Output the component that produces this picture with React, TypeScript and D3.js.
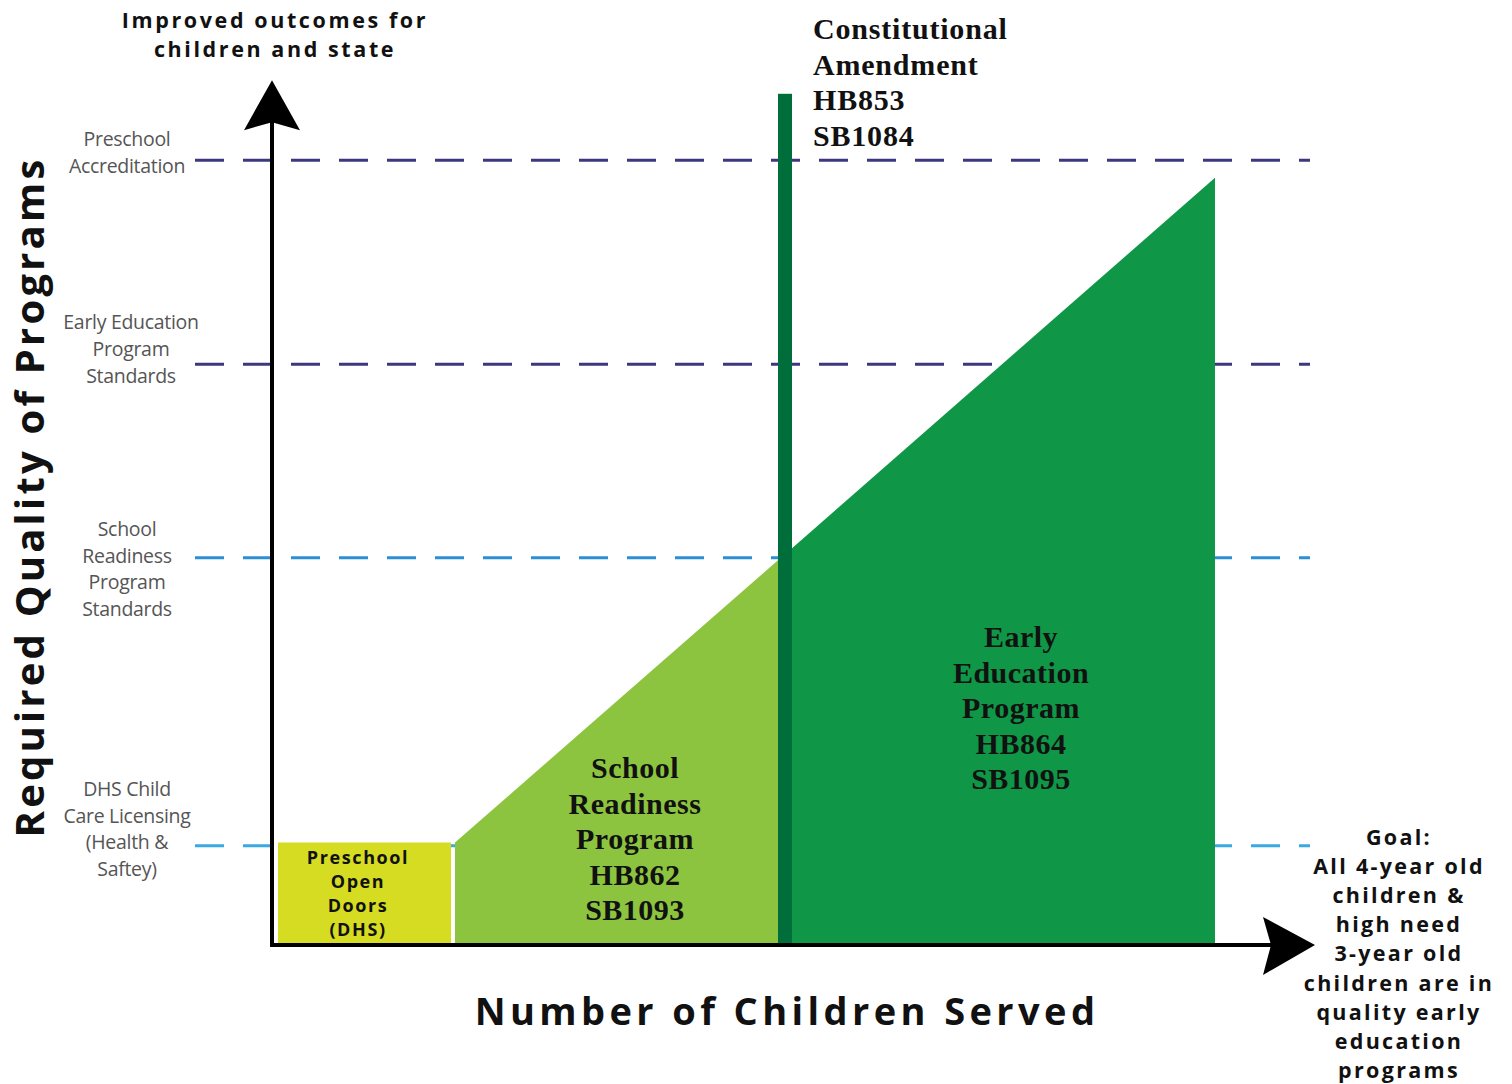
import React from 'react';
import * as d3 from 'd3';

const width = 1512, height = 1084;

// quality standards (dashed reference levels), value on the quality scale
const standardLabels = [
    ['Preschool', 'Accreditation'],
    ['Early Education', 'Program', 'Standards'],
    ['School', 'Readiness', 'Program', 'Standards'],
    ['DHS Child', 'Care Licensing', '(Health &', 'Saftey)'],
];
const standardLevels = [9.81, 7.26, 4.84, 1.24];
const standardColors = ['#3b3880', '#3b3880', '#2c8fd6', '#3aa9e2'];

// programs: children served range and required quality at each end
const programNames = [
    ['Preschool', 'Open', 'Doors', '(DHS)'],
    ['School', 'Readiness', 'Program', 'HB862', 'SB1093'],
    ['Early', 'Education', 'Program', 'HB864', 'SB1095'],
];
const programServed = [[0.6, 17.9], [18.3, 50.6], [52, 94.3]];
const programQuality = [[1.28, 1.28], [1.28, 4.81], [4.96, 9.59]];
const programColors = ['#d5dc22', '#8cc43f', '#0f9646'];

// constitutional amendment bar
const amendmentLines = ['Constitutional', 'Amendment', 'HB853', 'SB1084'];
const amendmentServed = [50.6, 52];
const amendmentQuality = 10.64;

const goalLines = ['Goal:', 'All 4-year old', 'children &', 'high need', '3-year old',
    'children are in', 'quality early', 'education', 'programs'];
const outcomeLines = ['Improved outcomes for', 'children and state'];

const xMax = 104.3, yMax = 10.81;

const x = d3.scaleLinear().domain([0, 100]).range([272, 1272]);
const y = d3.scaleLinear().domain([0, 10]).range([945, 145]);

const sans = '"Open Sans", sans-serif';
const serif = '"Liberation Serif", serif';

// where the first line of each standard label sits, relative to its dashed line
const labelOffsets = [-14, -35, -22, -50];
const labelCenters = [127, 131, 127, 127];

export default function App() {
    // area generator for program blocks
    const area = d3.area<[number, number]>()
        .x(d => x(d[0]))
        .y0(y(0))
        .y1(d => y(d[1]));

    const x0 = x(0), y0 = y(0);
    const yTip = y(yMax), xTip = x(xMax);

    return (
        <svg width={width} height={height} style={{ position: 'absolute', left: 0, top: 0 }}>
            <rect width={width} height={height} fill="#fff" />

            {/* dashed quality levels */}
            {standardLevels.map((lv, i) => (
                <line key={'l' + i} x1={195} x2={1310} y1={y(lv)} y2={y(lv)}
                    stroke={standardColors[i]} strokeWidth={3} strokeDasharray="29 19" />
            ))}

            {/* program areas */}
            {programServed.map((s, i) => (
                <path key={'p' + i}
                    d={area([[s[0], programQuality[i][0]], [s[1], programQuality[i][1]]]) || ''}
                    fill={programColors[i]} />
            ))}

            {/* amendment bar */}
            <rect x={x(amendmentServed[0])} width={x(amendmentServed[1]) - x(amendmentServed[0])}
                y={y(amendmentQuality)} height={y0 - y(amendmentQuality)} fill="#006e3a" />

            {/* axes */}
            <line x1={x0} x2={x0} y1={y0 + 2} y2={yTip + 30} stroke="#000" strokeWidth={4} />
            <path d={`M${x0},${yTip} L${x0 + 28},${yTip + 50} L${x0},${yTip + 42} L${x0 - 28},${yTip + 50} Z`} fill="#000" />
            <line x1={x0 - 2} x2={xTip - 30} y1={y0} y2={y0} stroke="#000" strokeWidth={4} />
            <path d={`M${xTip},${y0} L${xTip - 52},${y0 - 28} L${xTip - 44},${y0} L${xTip - 52},${y0 + 30} Z`} fill="#000" />

            {/* standard labels */}
            {standardLabels.map((lines, i) => {
                const c = labelCenters[i];
                const top = y(standardLevels[i]) + labelOffsets[i];
                return (
                    <text key={'s' + i} x={c} fontFamily={sans} fontSize={19.5} fill="#555"
                        textAnchor="middle" letterSpacing={-0.3}>
                        {lines.map((t, j) => (
                            <tspan key={j} x={c} y={top + j * 26.7}>{t}</tspan>
                        ))}
                    </text>
                );
            })}

            {/* program labels */}
            <text x={358} fontFamily={sans} fontWeight={700} fontSize={18} fill="#111"
                textAnchor="middle" letterSpacing={1.6}>
                {programNames[0].map((t, j) => <tspan key={j} x={358} y={864 + j * 24}>{t}</tspan>)}
            </text>
            <text x={635} fontFamily={serif} fontWeight={700} fontSize={30} fill="#111"
                textAnchor="middle" letterSpacing={0.5}>
                {programNames[1].map((t, j) => <tspan key={j} x={635} y={778 + j * 35.5}>{t}</tspan>)}
            </text>
            <text x={1021} fontFamily={serif} fontWeight={700} fontSize={30} fill="#111"
                textAnchor="middle" letterSpacing={0.5}>
                {programNames[2].map((t, j) => <tspan key={j} x={1021} y={647 + j * 35.5}>{t}</tspan>)}
            </text>
            <text x={813} fontFamily={serif} fontWeight={700} fontSize={30} fill="#111" letterSpacing={0.8}>
                {amendmentLines.map((t, j) => <tspan key={j} x={813} y={39 + j * 35.5}>{t}</tspan>)}
            </text>

            {/* axis titles */}
            <text x={275} fontFamily={sans} fontWeight={700} fontSize={21.5} fill="#111"
                textAnchor="middle" letterSpacing={2.6}>
                {outcomeLines.map((t, j) => <tspan key={j} x={275} y={28 + j * 29}>{t}</tspan>)}
            </text>
            <text transform="translate(44,497) rotate(-90)" fontFamily={sans} fontWeight={700}
                fontSize={40} fill="#111" textAnchor="middle" letterSpacing={3.2}>
                Required Quality of Programs
            </text>
            <text x={787} y={1025} fontFamily={sans} fontWeight={700} fontSize={38} fill="#111"
                textAnchor="middle" letterSpacing={4.4}>
                Number of Children Served
            </text>
            <text x={1399} fontFamily={sans} fontWeight={700} fontSize={21.5} fill="#111"
                textAnchor="middle" letterSpacing={2.3}>
                {goalLines.map((t, j) => <tspan key={j} x={1399} y={845 + j * 29.1}>{t}</tspan>)}
            </text>
        </svg>
    );
}
